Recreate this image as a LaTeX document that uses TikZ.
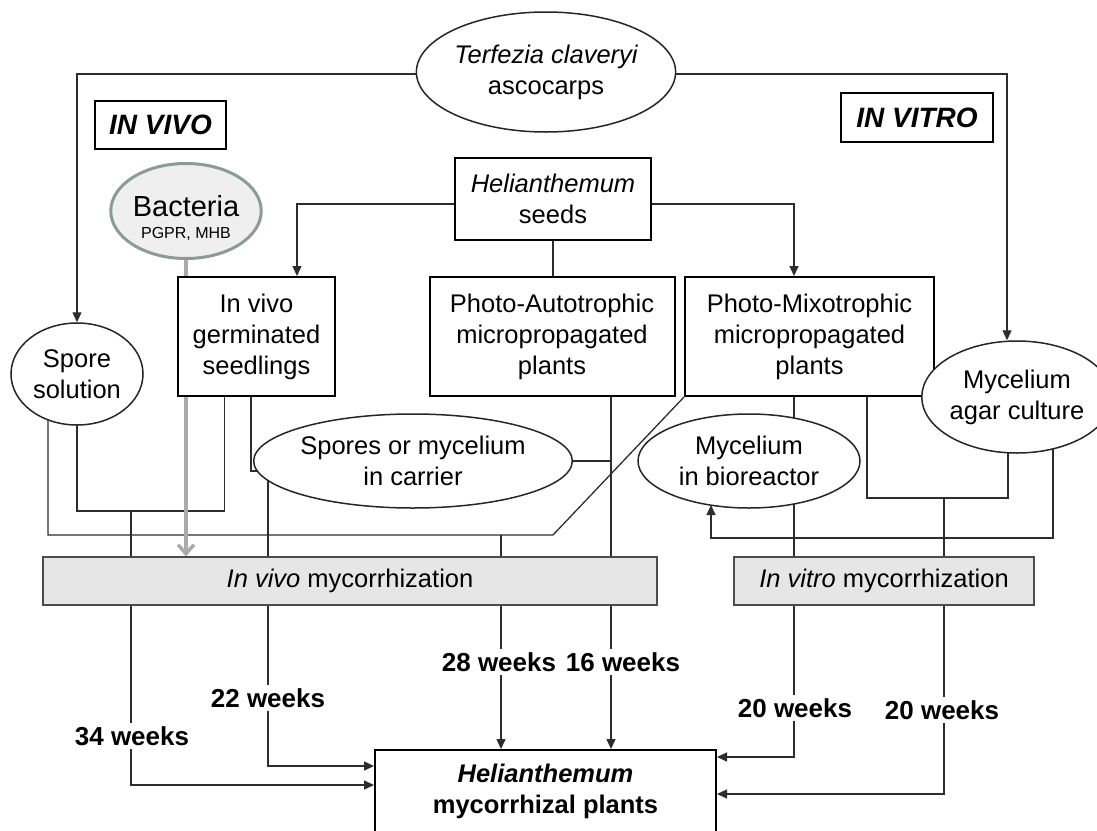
\documentclass[tikz,border=0pt]{standalone}
\usepackage{fontspec}
\setmainfont{Liberation Sans}
\usetikzlibrary{shapes.geometric,arrows.meta,calc}
\pgfdeclarelayer{background}
\pgfsetlayers{background,main}
\definecolor{lncol}{RGB}{45,45,45}
\definecolor{bactline}{RGB}{140,155,152}
\definecolor{bactfill}{RGB}{239,239,239}
\definecolor{myfill}{RGB}{230,230,230}
\definecolor{garrcol}{RGB}{170,170,170}
\begin{document}
\begin{tikzpicture}[x=1pt,y=-1pt,
  every node/.style={font=\fontsize{25.5}{31}\selectfont, align=center, inner sep=0pt},
  ln/.style={draw=lncol, line width=1.3pt},
  arr/.style={ln, -{Triangle[length=10pt,width=9pt]}},
  bx/.style={draw=black, line width=2pt, rectangle, fill=white},
  el/.style={draw=black!85, line width=1.5pt, ellipse, fill=white},
  mbox/.style={draw=black!70, line width=1.3pt, fill=myfill, rectangle},
  lab/.style={font=\fontsize{26}{31}\selectfont\bfseries, fill=white, inner sep=3pt},
  tagbox/.style={draw=black, line width=1.5pt, rectangle, fill=white, font=\fontsize{28}{32}\selectfont\bfseries\itshape},
  garr/.style={draw=garrcol, line width=3.5pt, -{Straight Barb[length=9pt,width=16pt]}},
]
\useasboundingbox (0,0) rectangle (1097,830);

% nodes
\node[el, minimum width=222, minimum height=120] (terf) at (546,72) {\itshape Terfezia claveryi\\ascocarps};
\node[tagbox, minimum width=131, minimum height=48] (invivo) at (160.5,125) {IN VIVO};
\node[tagbox, minimum width=152, minimum height=49] (invitro) at (917,117.5) {IN VITRO};
\node[bx, minimum width=196, minimum height=82] (seeds) at (553,199) {\itshape Helianthemum\\seeds};
\node[ellipse, draw=bactline, line width=3pt, fill=bactfill, minimum width=128, minimum height=95] (bact) at (186,211)
  {\fontsize{29}{24}\selectfont\rule{0pt}{36pt}Bacteria\\[-9pt]{\fontsize{16}{18}\selectfont PGPR, MHB}};
\node[bx, minimum width=157, minimum height=119] (ivs) at (256.5,336.5) {In vivo\\germinated\\seedlings};
\node[bx, minimum width=245, minimum height=119] (pa) at (552,336.5) {Photo-Autotrophic\\micropropagated\\plants};
\node[bx, minimum width=249, minimum height=119] (pm) at (809.5,336.5) {Photo-Mixotrophic\\micropropagated\\plants};
\node[el, minimum width=132, minimum height=102] (spore) at (77,374) {Spore\\solution};
\node[el, minimum width=156, minimum height=112] (agar) at (1017,397) {Mycelium\\agar culture};
\node[el, minimum width=268, minimum height=94] (carrier) at (413,461) {Spores or mycelium\\in carrier};
\node[el, minimum width=222, minimum height=94] (bio) at (749,461) {Mycelium\\in bioreactor};
\node[mbox, minimum width=614, minimum height=48] (vivo) at (350,581) {\textit{In vivo} mycorrhization};
\node[mbox, minimum width=300, minimum height=48] (vitro) at (884,581) {\textit{In vitro} mycorrhization};
\node[bx, minimum width=341, minimum height=82] (final) at (545.5,791) {\bfseries\itshape Helianthemum\\\bfseries mycorrhizal plants};

\node[lab] (w34) at (132,736) {34 weeks};
\node[lab] (w22) at (268,698) {22 weeks};
\node[lab] (w28) at (499,662) {28 weeks};
\node[lab] (w16) at (623,662) {16 weeks};
\node[lab] (w20a) at (795,708) {20 weeks};
\node[lab] (w20b) at (942,710) {20 weeks};

% helper coordinates
\coordinate (j1) at (553,535);
\coordinate (d28) at (501,535);
\coordinate (j2) at (224.6,511);
\coordinate (d34) at (131,511);
\coordinate (d22) at (268,471);
\coordinate (pa16) at ([xshift=59pt]pa.south);
\coordinate (agL) at ([xshift=-9pt]agar.center);
\coordinate (agR) at ([xshift=36pt]agar.center);
\coordinate (j3) at (944,498);
\coordinate (j4) at (0,538);
\coordinate (bioin) at ([xshift=-38pt,yshift=-44pt]bio.center);

\begin{pgfonlayer}{background}
\fill[white] (0,0) rectangle (1097,830);
% Terfezia
\draw[arr] ([yshift=-2pt]terf.west) -| (spore.north);
\draw[arr] ([yshift=-2pt]terf.east) -| ([xshift=-10pt]agar.north);
% seeds
\draw[arr] ([yshift=-5pt]seeds.west) -| ([xshift=40.5pt]ivs.north);
\draw[arr] ([yshift=-5pt]seeds.east) -| ([xshift=-15.5pt]pm.north);
\draw[ln] (seeds.south) -- (seeds.south |- pa.north);
% spore solution + photo-mixotrophic -> 28 weeks
\draw[ln] ([xshift=-29pt]spore.center) |- (j1) -- (pm.south west);
\draw[arr] (d28) -- (d28 |- final.north);
% spore solution + seedlings -> 34 weeks
\draw[ln] (spore.center) |- (j2) -- (j2 |- ivs.south);
\draw[arr] (d34) |- ([yshift=6pt]final.west);
% seedlings + carrier -> 22 weeks
\draw[ln] ([xshift=-5.5pt]ivs.south) |- ([yshift=-10pt]carrier.center);
\draw[arr] (d22) |- ([yshift=25pt]final.west);
% autotrophic + carrier -> 16 weeks
\draw[arr] (pa16) -- (pa16 |- final.north);
\draw[ln] (carrier.center) -- (carrier.center -| pa16);
% mixotrophic -> bioreactor -> 20 weeks
\draw[arr] ([xshift=-15.5pt]pm.south) |- ([yshift=34pt]final.east);
% mixotrophic + agar -> 20 weeks
\draw[ln] ([xshift=57.5pt]pm.south) |- (agL |- j3) -- (agL);
\draw[arr] (j3) |- ([yshift=-3pt]final.east);
% agar -> bioreactor
\draw[arr] (agR) |- (bioin |- j4) -- (bioin);
% bacteria
\draw[garr] (bact.center) -- (bact.center |- vivo.north);
\end{pgfonlayer}
\end{tikzpicture}
\end{document}
